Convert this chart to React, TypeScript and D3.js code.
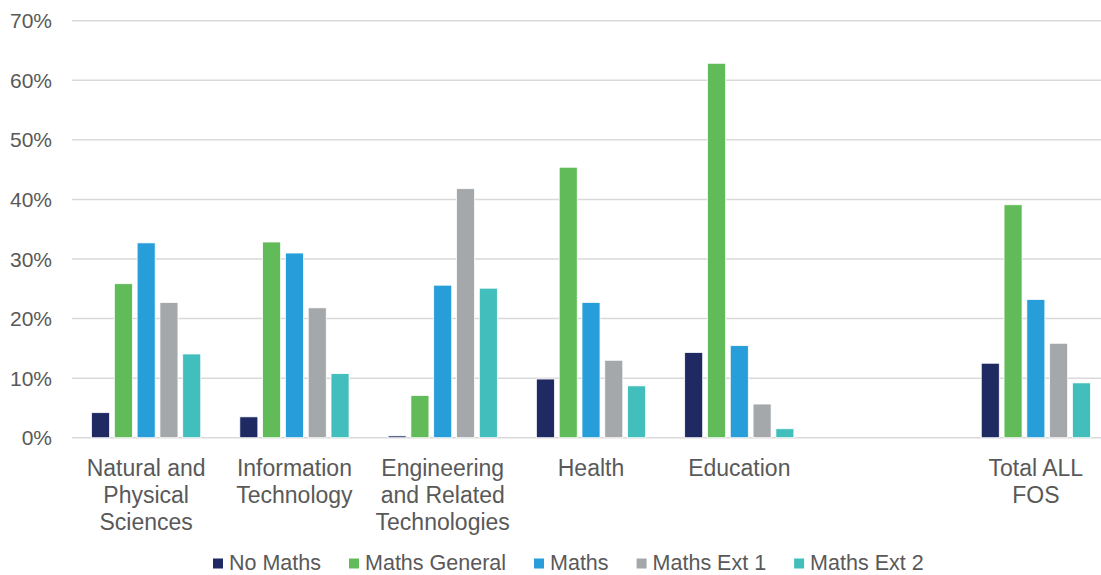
import React, { useEffect, useRef } from "react";
import * as d3 from "d3";

const categories = [
  "Natural and Physical Sciences",
  "Information Technology",
  "Engineering and Related Technologies",
  "Health",
  "Education",
  "",
  "Total ALL FOS",
];
const categoryLines: string[][] = [
  ["Natural and", "Physical", "Sciences"],
  ["Information", "Technology"],
  ["Engineering", "and Related", "Technologies"],
  ["Health"],
  ["Education"],
  [],
  ["Total ALL", "FOS"],
];
const seriesNames = ["No Maths", "Maths General", "Maths", "Maths Ext 1", "Maths Ext 2"];
const seriesColors = ["#1f2a63", "#61bb58", "#279dd9", "#a4a8ab", "#42bfbc"];

const noMaths = [4.2, 3.5, 0.3, 9.85, 14.3, null, 12.5];
const mathsGeneral = [25.85, 32.85, 7.1, 45.4, 62.85, null, 39.1];
const maths = [32.7, 31.0, 25.6, 22.7, 15.45, null, 23.2];
const mathsExt1 = [22.7, 21.8, 41.8, 13.0, 5.65, null, 15.85];
const mathsExt2 = [14.05, 10.75, 25.1, 8.7, 1.5, null, 9.2];
const seriesValues = [noMaths, mathsGeneral, maths, mathsExt1, mathsExt2];

const yTicks = [0, 10, 20, 30, 40, 50, 60, 70];

const W = 1101;
const H = 575;

export default function App() {
  const ref = useRef<SVGSVGElement>(null);

  useEffect(() => {
    const svg = d3.select(ref.current);
    svg.selectAll("*").remove();
    const font = "'Liberation Sans', Arial, sans-serif";
    const textColor = "#595959";

    const left = 72;
    const right = 1110;
    const top = 20.7;
    const bottom = 437.7;

    const y = d3.scaleLinear().domain([0, 70]).range([bottom, top]);
    const x0 = d3.scaleBand<number>().domain(d3.range(categories.length)).range([left, right]).padding(0);
    const groupW = 109.2;
    const off = (x0.bandwidth() - groupW) / 2;
    const x1 = d3
      .scaleBand<number>()
      .domain(d3.range(seriesNames.length))
      .range([off, off + groupW])
      .paddingInner(0.21)
      .paddingOuter(0);

    // gridlines
    svg
      .append("g")
      .selectAll("line")
      .data(yTicks)
      .join("line")
      .attr("x1", left)
      .attr("x2", W)
      .attr("y1", (d) => y(d))
      .attr("y2", (d) => y(d))
      .attr("stroke", "#d9d9d9")
      .attr("stroke-width", 1.5);

    // y labels
    svg
      .append("g")
      .selectAll("text")
      .data(yTicks)
      .join("text")
      .attr("x", 52)
      .attr("y", (d) => y(d))
      .attr("dy", "0.36em")
      .attr("text-anchor", "end")
      .attr("font-family", font)
      .attr("font-size", 21)
      .attr("fill", textColor)
      .text((d) => `${d}%`);

    // bars
    const bars = svg.append("g");
    categories.forEach((_, ci) => {
      seriesValues.forEach((vals, si) => {
        const v = vals[ci];
        if (v == null) return;
        bars
          .append("rect")
          .attr("x", (x0(ci) as number) + (x1(si) as number))
          .attr("y", y(v))
          .attr("width", x1.bandwidth())
          .attr("height", y(0) - y(v))
          .attr("fill", seriesColors[si])
          .attr("stroke", "#ffffff")
          .attr("stroke-width", 0.75);
      });
    });

    // category labels
    const cg = svg.append("g");
    categoryLines.forEach((lines, ci) => {
      const cx = (x0(ci) as number) + x0.bandwidth() / 2;
      lines.forEach((ln, li) => {
        cg.append("text")
          .attr("x", cx)
          .attr("y", 476 + li * 27)
          .attr("text-anchor", "middle")
          .attr("font-family", font)
          .attr("font-size", 23)
          .attr("fill", textColor)
          .text(ln);
      });
    });

    // legend
    const lg = svg.append("g");
    let lx = 213;
    const ly = 562.5;
    seriesNames.forEach((name, si) => {
      lg.append("rect")
        .attr("x", lx)
        .attr("y", ly - 4)
        .attr("width", 10)
        .attr("height", 10)
        .attr("fill", seriesColors[si]);
      const t = lg
        .append("text")
        .attr("x", lx + 16)
        .attr("y", ly)
        .attr("dy", "0.36em")
        .attr("font-family", font)
        .attr("font-size", 21.5)
        .attr("fill", textColor)
        .text(name);
      const w = (t.node() as SVGTextElement).getComputedTextLength();
      lx = lx + 16 + w + 28;
    });
  }, []);

  return (
    <svg
      ref={ref}
      width={W}
      height={H}
      style={{ position: "absolute", left: 0, top: 0, background: "#fff" }}
    />
  );
}
